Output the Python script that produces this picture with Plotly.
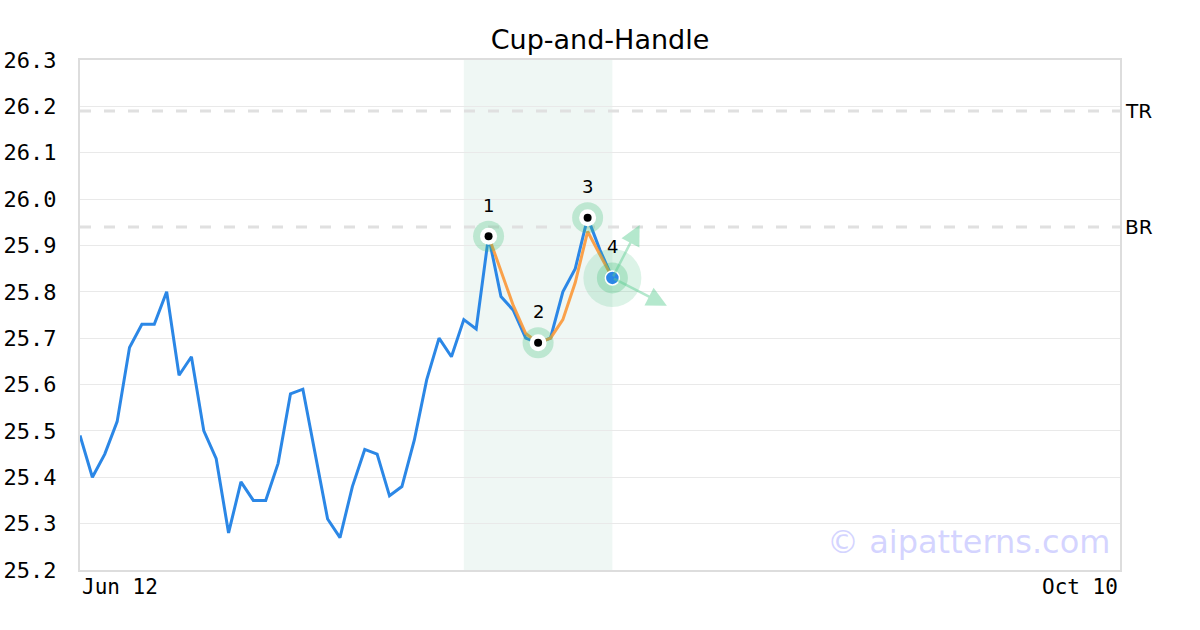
import plotly.graph_objects as go

# ---- data ----
price = [25.49, 25.40, 25.45, 25.52, 25.68, 25.73, 25.73, 25.80, 25.62, 25.66,
         25.50, 25.44, 25.28, 25.39, 25.35, 25.35, 25.43, 25.58, 25.59, 25.45,
         25.31, 25.27, 25.38, 25.46, 25.45, 25.36, 25.38, 25.48, 25.61, 25.70,
         25.66, 25.74, 25.72, 25.92, 25.79, 25.76, 25.70, 25.69, 25.70, 25.80,
         25.85, 25.96, 25.89, 25.83]
days = list(range(len(price)))

fit_days = list(range(33, 44))
fit_vals = [25.92, 25.845, 25.77, 25.71, 25.69, 25.70, 25.74, 25.82, 25.93, 25.88, 25.83]

pivot_days = [33, 37, 41]
pivot_vals = [25.92, 25.69, 25.96]
pivot_labels = ["1", "2", "3"]
last_day = 43
last_val = 25.83
last_label = "4"

zone_start, zone_end = 31, 43
levels = [26.19, 25.94]
level_labels = ["TR", "BR"]

arrow_tips_x = [45.2, 47.4]
arrow_tips_y = [25.944, 25.77]

x_range = [0, 84]
x_tick_labels = ["Jun 12", "Oct 10"]
y_range = [25.2, 26.3]

title = "Cup-and-Handle"
watermark = "© aipatterns.com"

BLUE = "#2b87e6"
ORANGE = "#fb9a3c"
HALO = "rgba(60,190,120,0.28)"
MONO = "DejaVu Sans Mono"
SANS = "DejaVu Sans"

fig = go.Figure()

# shaded pattern zone
fig.add_vrect(x0=zone_start, x1=zone_end, fillcolor="#eff7f4", line_width=0, layer="below")

# level lines
for lv, lab in zip(levels, level_labels):
    fig.add_shape(type="line", xref="paper", x0=0, x1=1, yref="y", y0=lv, y1=lv,
                  line=dict(color="#e0e0e0", width=3, dash="11px,13px"), layer="below")
    fig.add_annotation(xref="paper", x=1, xanchor="left", xshift=3, yref="y", y=lv,
                       text=lab, showarrow=False, font=dict(family=SANS, size=20, color="#000"))

# price line
fig.add_trace(go.Scatter(x=days, y=price, mode="lines",
                         line=dict(color=BLUE, width=3), hoverinfo="skip"))
# fitted pattern line
fig.add_trace(go.Scatter(x=fit_days, y=fit_vals, mode="lines", opacity=0.92,
                         line=dict(color=ORANGE, width=3), hoverinfo="skip"))

# big halo around last point
fig.add_trace(go.Scatter(x=[last_day], y=[last_val], mode="markers",
                         marker=dict(size=58, color="rgba(60,190,120,0.18)"), hoverinfo="skip"))

# arrows
for tx, ty in zip(arrow_tips_x, arrow_tips_y):
    fig.add_annotation(x=tx, y=ty, ax=last_day, ay=last_val, xref="x", yref="y",
                       axref="x", ayref="y", text="", showarrow=True,
                       arrowhead=2, arrowsize=1.6, arrowwidth=2.5,
                       arrowcolor="rgba(90,205,145,0.45)")

# pivot halos + markers
fig.add_trace(go.Scatter(x=pivot_days + [last_day], y=pivot_vals + [last_val], mode="markers",
                         marker=dict(size=31, color=HALO), hoverinfo="skip"))
fig.add_trace(go.Scatter(x=pivot_days, y=pivot_vals, mode="markers",
                         marker=dict(size=17, color="white"), hoverinfo="skip"))
fig.add_trace(go.Scatter(x=pivot_days, y=pivot_vals, mode="markers",
                         marker=dict(size=8, color="black"), hoverinfo="skip"))
fig.add_trace(go.Scatter(x=[last_day], y=[last_val], mode="markers",
                         marker=dict(size=14, color=BLUE, line=dict(color="white", width=1.5)),
                         hoverinfo="skip"))

# point labels
for d, v, lab in zip(pivot_days + [last_day], pivot_vals + [last_val], pivot_labels + [last_label]):
    fig.add_annotation(x=d, y=v, text=lab, showarrow=False, yshift=31,
                       font=dict(family=SANS, size=18, color="#000"))

# x tick labels
fig.add_annotation(x=x_range[0], xref="x", xanchor="left", y=0, yref="paper", yanchor="top",
                   yshift=-3, text=x_tick_labels[0], showarrow=False,
                   font=dict(family=MONO, size=21, color="#000"))
fig.add_annotation(x=x_range[1], xref="x", xanchor="right", y=0, yref="paper", yanchor="top",
                   yshift=-3, text=x_tick_labels[1], showarrow=False,
                   font=dict(family=MONO, size=21, color="#000"))

# watermark
fig.add_annotation(xref="paper", x=1, xanchor="right", xshift=-8, yref="y", y=y_range[0],
                   yanchor="bottom", yshift=7, text=watermark, showarrow=False,
                   font=dict(family=SANS, size=32, color="rgba(170,170,255,0.5)"))

fig.update_layout(
    width=1200, height=630,
    margin=dict(l=80, r=80, t=60, b=60, autoexpand=False),
    paper_bgcolor="white", plot_bgcolor="white",
    showlegend=False,
    title=dict(text=title, x=0.5, xanchor="center", xref="paper",
               y=1 - 40 / 630, yref="container", yanchor="middle",
               font=dict(family=SANS, size=27, color="#000")),
    xaxis=dict(range=x_range, showgrid=False, zeroline=False, showticklabels=False,
               showline=True, mirror=True, linecolor="#dddddd", linewidth=2, ticks=""),
    yaxis=dict(range=y_range, dtick=0.1, tick0=25.2, tickformat=".1f",
               showgrid=True, gridcolor="#e9e9e9", gridwidth=1, zeroline=False,
               showline=True, mirror=True, linecolor="#dddddd", linewidth=2,
               ticks="", ticklabelstandoff=17,
               tickfont=dict(family=MONO, size=22, color="#000")),
)

fig.write_html("out.html", config={"displayModeBar": False},
               post_script="document.body.style.margin='0';document.body.style.overflow='hidden';")
